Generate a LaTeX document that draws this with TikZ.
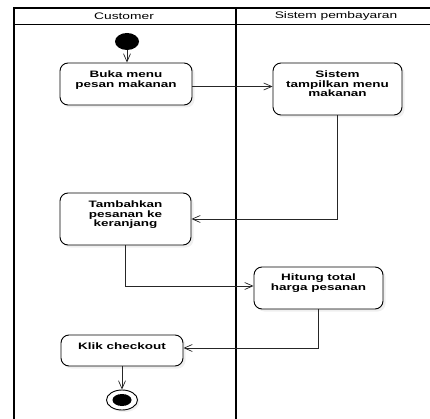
\documentclass[tikz,border=0pt]{standalone}
\usepackage{fontspec}
\newfontfamily\lblfont{Liberation Sans}[FakeStretch=1.45]
\usetikzlibrary{arrows.meta,shadows,shapes.geometric}
\begin{document}
\begin{tikzpicture}[x=1pt,y=-1pt,
  lane/.style={line width=1.2pt,draw=black},
  actbox/.style={draw=black,line width=0.9pt,rounded corners=8pt,fill=white,
    drop shadow={opacity=0.12,shadow xshift=2.5pt,shadow yshift=-2.5pt}},
  acttext/.style={anchor=north,inner sep=0pt,align=center,
    font=\lblfont\bfseries\fontsize{9.3}{9.7}\selectfont},
  headtext/.style={inner sep=0pt,font=\lblfont\fontsize{9.5}{11}\selectfont},
  flow/.style={draw=black!85,line width=0.7pt,-{Straight Barb[length=8pt,width=7pt]}},
  flowline/.style={draw=black!85,line width=0.7pt}]
\useasboundingbox (0,0) rectangle (430,419);
\fill[white] (0,0) rectangle (430,419);
% swimlanes
\coordinate (tl) at (14,8);
\coordinate (hl) at (14,24.5);
\coordinate (dv) at (236,8);
\draw[lane] (430,8) -- (tl) -- (14,420);
\draw[lane] (hl) -- (430,24.5);
\draw[lane] (dv) -- (236,420);
\node[headtext] (h1) at (124,16.5) {Customer};
\node[headtext] (h2) at (336,16.5) {Sistem pembayaran};
% start
\node[ellipse,fill=black,minimum width=24pt,minimum height=17pt,inner sep=0pt,draw=none] (start) at (127,41.5) {};
% activities
\node[actbox,minimum width=132pt,minimum height=42pt] (b1) at (126,84) {};
\node[acttext] (t1) at ([yshift=-8.5pt]b1.north) {Buka menu\\pesan makanan};
\node[actbox,minimum width=129pt,minimum height=52pt] (b2) at (337.5,89) {};
\node[acttext] (t2) at ([yshift=-8pt]b2.north) {Sistem\\tampilkan menu\\makanan};
\node[actbox,minimum width=131pt,minimum height=52pt] (b3) at (125.5,219) {};
\node[acttext] (t3) at ([yshift=-8pt]b3.north) {Tambahkan\\pesanan ke\\keranjang};
\node[actbox,minimum width=129pt,minimum height=42pt] (b4) at (318.5,288) {};
\node[acttext] (t4) at ([yshift=-7.5pt]b4.north) {Hitung total\\harga pesanan};
\node[actbox,minimum width=122pt,minimum height=31pt] (b5) at (122,350.5) {};
\node[acttext] (t5) at ([yshift=-8.5pt]b5.north) {Klik checkout};
% end
\node[ellipse,draw=black,line width=0.9pt,fill=white,minimum width=31pt,minimum height=20pt,inner sep=0pt,
  drop shadow={opacity=0.12,shadow xshift=2pt,shadow yshift=-2pt}] (end) at (122,400) {};
\node[ellipse,fill=black,minimum width=19pt,minimum height=12pt,inner sep=0pt] (endin) at (end.center) {};
% flows
\draw[flow] (start.south) -- (start.south |- b1.north);
\path (b1.east) ++(0,2.5) coordinate (e1);
\draw[flow] (e1) -- (e1 -| b2.west);
\draw[flow] (b2.south) |- (b3.east);
\draw[flow] (b3.south) |- ([yshift=2pt]b4.west);
\draw[flow] (b4.south) |- ([yshift=2.5pt]b5.east);
\draw[flow] (b5.south) -- (end.north);
\end{tikzpicture}
\end{document}
